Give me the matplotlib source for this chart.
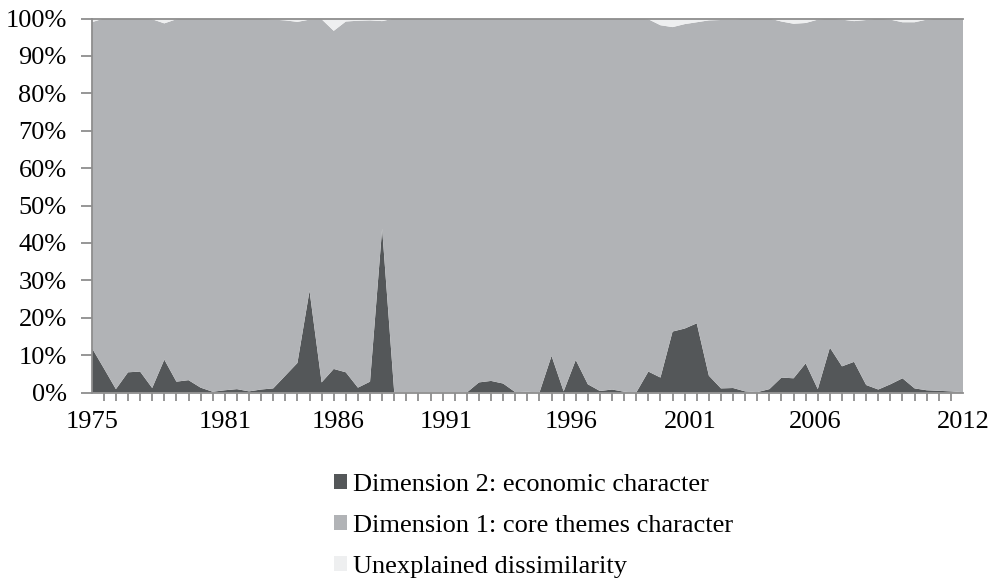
import matplotlib
matplotlib.use('Agg')
import matplotlib.pyplot as plt
from matplotlib.patches import Patch
from matplotlib.ticker import FixedLocator, FuncFormatter
import numpy as np

plt.rcParams['font.family'] = ['Liberation Serif', 'DejaVu Serif']

# share (%) per half-year observation, 1975 .. 2012
dim2_economic = [
    12.0, 6.5, 0.9, 5.4, 5.6, 1.2, 8.8, 2.9, 3.3, 1.3,
    0.2, 0.6, 0.9, 0.3, 0.8, 1.1, 4.5, 7.9, 27.2, 2.7,
    6.3, 5.4, 1.3, 2.9, 43.8, 0.0, 0.0, 0.0, 0.0, 0.0,
    0.0, 0.0, 2.7, 3.1, 2.4, 0.1, 0.2, 0.0, 9.8, 0.3,
    8.7, 2.2, 0.4, 0.8, 0.2, 0.0, 5.6, 4.0, 16.3, 17.1,
    18.5, 4.5, 1.1, 1.2, 0.3, 0.1, 0.9, 4.0, 3.8, 7.8,
    0.9, 12.0, 7.0, 8.2, 2.0, 0.8, 2.2, 3.8, 1.1, 0.6,
    0.45, 0.3, 0.1,
]
unexplained = [
    1.0, 0.0, 0.0, 0.0, 0.0, 0.2, 1.3, 0.2, 0.0, 0.0,
    0.0, 0.0, 0.0, 0.0, 0.0, 0.3, 0.5, 0.9, 0.3, 0.2,
    3.3, 0.8, 0.6, 0.5, 0.7, 0.0, 0.0, 0.0, 0.0, 0.0,
    0.0, 0.0, 0.0, 0.0, 0.0, 0.0, 0.0, 0.0, 0.0, 0.0,
    0.0, 0.0, 0.0, 0.0, 0.0, 0.0, 0.2, 1.8, 2.3, 1.5,
    1.0, 0.5, 0.4, 0.4, 0.0, 0.0, 0.0, 0.8, 1.4, 1.2,
    0.3, 0.0, 0.3, 0.7, 0.4, 0.0, 0.3, 1.0, 1.0, 0.3,
    0.0, 0.0, 0.0,
]
# 100% stacked: core themes dimension is the remainder
dim1_core = [100.0 - a - b for a, b in zip(dim2_economic, unexplained)]

year_labels = ['1975', '1981', '1986', '1991', '1996', '2001', '2006', '2012']
year_label_pos = [0, 11.05, 20.4, 29.3, 39.6, 49.5, 59.8, 72]

series_labels = ['Dimension 2: economic character',
                 'Dimension 1: core themes character',
                 'Unexplained dissimilarity']
colors = ['#545759', '#b1b3b6', '#eeeff0']

x = np.arange(len(dim2_economic))

fig = plt.figure(figsize=(9.99, 5.78), dpi=100)
ax = fig.add_axes([91.7 / 999, 1 - 392.5 / 578, (963 - 91.7) / 999, (392.5 - 18.5) / 578])

ax.stackplot(x, dim2_economic, dim1_core, unexplained, colors=colors, linewidth=0)

ax.set_xlim(0, len(x) - 1)
ax.set_ylim(0, 100)

axis_grey = '#8e8e8e'
ax.spines['right'].set_visible(False)
for side in ['left', 'bottom', 'top']:
    ax.spines[side].set_color(axis_grey)
    ax.spines[side].set_linewidth(1.3)

fs = 19
ax.set_yticks(np.arange(0, 101, 10))
ax.yaxis.set_major_formatter(FuncFormatter(lambda v, p: f'{v:.0f}%'))
ax.tick_params(axis='y', length=8, width=1.3, color=axis_grey, labelsize=fs, pad=10)

ax.xaxis.set_major_locator(FixedLocator(year_label_pos))
ax.set_xticklabels(year_labels)
ax.xaxis.set_minor_locator(FixedLocator(x))
ax.tick_params(axis='x', which='major', length=0, labelsize=fs, pad=13)
ax.tick_params(axis='x', which='minor', length=6, width=1.3, color=axis_grey)

handles = [Patch(facecolor=c, edgecolor='none') for c in colors]
fig.legend(handles, series_labels, loc='upper center',
           bbox_to_anchor=(0.534, 1 - 461 / 578), frameon=False,
           fontsize=fs, handlelength=0.5, handleheight=0.5,
           handletextpad=0.25, labelspacing=0.72, borderpad=0)

fig.savefig('out.png', dpi=100)
